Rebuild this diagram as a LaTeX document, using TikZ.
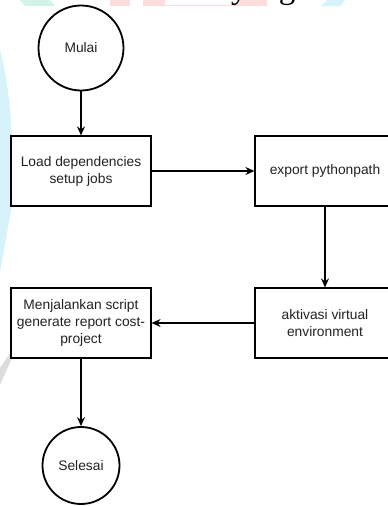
\documentclass[tikz,border=0pt]{standalone}
\usepackage{fontspec}
\setsansfont{Liberation Sans}
\newfontfamily\headserif{Liberation Serif}
\usetikzlibrary{arrows.meta}
\definecolor{mintwm}{HTML}{D2F4E8}
\definecolor{pinkwm}{HTML}{FCDCDC}
\definecolor{cyanwm}{HTML}{D6F3FC}
\definecolor{greywm}{HTML}{DCDCDC}
\definecolor{inktext}{HTML}{222222}
\tikzset{
  labelfont/.style={font=\sffamily\fontsize{13.8}{17}\selectfont, text=inktext},
  stepbox/.style={draw, fill=white, line width=1.2pt, minimum width=140pt,
    minimum height=70pt, inner sep=0pt, align=center, labelfont},
  terminal/.style={draw, fill=white, circle, line width=1.8pt, inner sep=0pt, labelfont},
  flow/.style={line width=1.2pt, -{Stealth[length=9pt,width=8pt,inset=3pt]}}
}
\begin{document}
\begin{tikzpicture}[x=1pt,y=-1pt]
\useasboundingbox (0,0) rectangle (388,506);
\clip (0,0) rectangle (388,506);

% background ribbons along the top and left edges
\fill[mintwm] (20,0) -- (50,0) -- (55,6) -- (25,6) -- cycle;
\fill[pinkwm] (110,0) rectangle (130,6);
\fill[pinkwm] (143,0) rectangle (267,6);
\fill[white] (165,0) rectangle (237,5);
\fill[cyanwm] (327,0) -- (345,0) -- (341,6) -- (321,6) -- cycle;
\fill[cyanwm] (0,50) .. controls (8,80) and (12,120) .. (12,150) -- (12,205) -- (0,272) -- cycle;
\fill[greywm] (0,368) -- (12,350) -- (12,358) -- (0,385) -- cycle;

% heading fragment
\node[anchor=base west, inner sep=0pt, font=\headserif\fontsize{33}{33}\selectfont]
  (heading) at (231,-1.5) {yang};

% flowchart
\node[terminal, minimum size=85pt] (mulai) at (81,48) {Mulai};
\node[stepbox] (load) at (81,171) {Load dependencies\\setup jobs};
\node[stepbox] (export) at (325,171) {export pythonpath};
\node[stepbox] (venv) at (325,323) {aktivasi virtual\\environment};
\node[stepbox] (script) at (81,323) {Menjalankan script\\generate report cost-\\project};
\node[terminal, minimum size=77pt] (selesai) at (81,465.5) {Selesai};

\draw[flow] (mulai) -- (load);
\draw[flow] (load) -- (export);
\draw[flow] (export) -- (venv);
\draw[flow] (venv) -- (script);
\draw[flow] (script) -- (selesai);
\end{tikzpicture}
\end{document}
